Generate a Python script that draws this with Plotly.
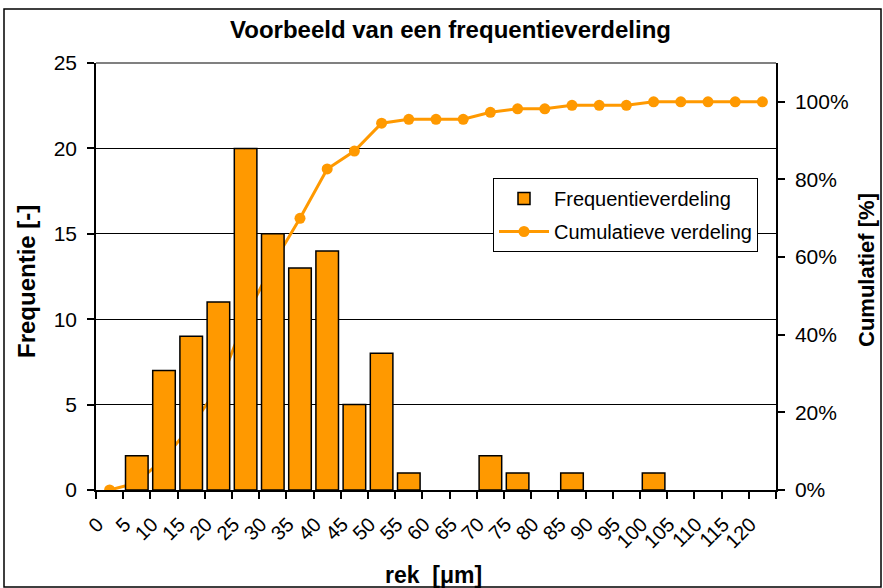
import plotly.graph_objects as go

categories = ["0", "5", "10", "15", "20", "25", "30", "35", "40", "45", "50", "55", "60",
              "65", "70", "75", "80", "85", "90", "95", "100", "105", "110", "115", "120"]
frequency = [0, 2, 7, 9, 11, 20, 15, 13, 14, 5, 8, 1, 0, 0, 2, 1, 0, 1, 0, 0, 1, 0, 0, 0, 0]
cumulative = [0.0, 0.018, 0.082, 0.164, 0.264, 0.445, 0.582, 0.700, 0.827, 0.873, 0.945,
              0.955, 0.955, 0.955, 0.973, 0.982, 0.982, 0.991, 0.991, 0.991, 1.0, 1.0,
              1.0, 1.0, 1.0]
left_ticks = [0, 5, 10, 15, 20, 25]
right_ticks = [0, 0.2, 0.4, 0.6, 0.8, 1.0]

W, H = 883, 588
ML, MR, MT, MB = 96, 107, 63, 98
PW, PH = W - ML - MR, H - MT - MB


def px(x):
    return (x - ML) / PW


def py(y):
    return (H - MB - y) / PH


FONT = "Arial, Liberation Sans, sans-serif"
ORANGE = "#FF9900"

# no outline on empty bins (Excel draws nothing there)
bar_outline = [1.5 if v > 0 else 0 for v in frequency]

fig = go.Figure()
fig.add_trace(go.Bar(
    x=categories, y=frequency, name="Frequentieverdeling",
    marker=dict(color=ORANGE, line=dict(color="black", width=bar_outline)),
    yaxis="y2", legendgroup="a", showlegend=False,
))
# legend entry for the bars (with outline)
fig.add_trace(go.Bar(
    x=[None], y=[None], name="Frequentieverdeling",
    marker=dict(color=ORANGE, line=dict(color="black", width=1.5)),
    yaxis="y2", legendgroup="a", showlegend=True,
))
fig.add_trace(go.Scatter(
    x=categories, y=cumulative, name="Cumulatieve verdeling",
    mode="lines+markers", line=dict(color=ORANGE, width=3),
    marker=dict(color=ORANGE, size=11), yaxis="y", legendgroup="b",
))

fig.update_layout(
    width=W, height=H,
    margin=dict(l=ML, r=MR, t=MT, b=MB),
    paper_bgcolor="white", plot_bgcolor="white",
    font=dict(family=FONT, color="black"),
    bargap=0.17, barmode="overlay",
    showlegend=True,
    legend=dict(
        x=px(493), y=py(178), xanchor="left", yanchor="top",
        bgcolor="white", bordercolor="black", borderwidth=1,
        font=dict(size=20, family=FONT), traceorder="grouped", tracegroupgap=4,
        itemwidth=50,
    ),
    xaxis=dict(
        type="category", range=[-0.5, len(categories) - 0.5],
        tickson="boundaries", ticks="outside", ticklen=7,
        tickcolor="black", tickwidth=1.5, showline=True, linecolor="black",
        linewidth=1.5, showgrid=False, tickangle=-45,
        tickfont=dict(size=20, family=FONT), ticklabelstandoff=13,
        ticklabelshift=-12,
    ),
    yaxis=dict(
        side="right", range=[0, 1.1], tickvals=right_ticks, tickformat=".0%",
        ticks="outside", ticklen=7, tickcolor="black", tickwidth=1.5,
        showline=True, linecolor="black", linewidth=1.5, showgrid=False,
        zeroline=False, tickfont=dict(size=21, family=FONT), ticklabelstandoff=6,
    ),
    yaxis2=dict(
        side="left", overlaying="y", range=[0, 25], tickvals=left_ticks,
        ticks="outside", ticklen=7, tickcolor="black", tickwidth=1.5,
        showline=True, linecolor="black", linewidth=1.5, showgrid=True,
        gridcolor="black", gridwidth=1, zeroline=False,
        tickfont=dict(size=21, family=FONT), ticklabelstandoff=6,
    ),
    shapes=[
        dict(type="line", xref="paper", yref="paper", x0=0, x1=1, y0=1, y1=1,
             line=dict(color="#808080", width=2)),
        dict(type="rect", xref="paper", yref="paper",
             x0=px(4), x1=px(881), y0=py(587), y1=py(9),
             line=dict(color="black", width=1.5)),
    ],
    annotations=[
        dict(text="<b>Voorbeeld van een frequentieverdeling</b>", xref="paper", yref="paper",
             x=px(450), y=py(30), xanchor="center", yanchor="middle",
             showarrow=False, font=dict(size=24, family=FONT)),
        dict(text="<b>Frequentie [-]</b>", xref="paper", yref="paper",
             x=px(26), y=py(282), xanchor="center", yanchor="middle",
             showarrow=False, textangle=-90, font=dict(size=24, family=FONT)),
        dict(text="<b>Cumulatief [%]</b>", xref="paper", yref="paper",
             x=px(866), y=py(270), xanchor="center", yanchor="middle",
             showarrow=False, textangle=-90, font=dict(size=22, family=FONT)),
        dict(text="<b>rek\u00a0 [\u03bcm]</b>", xref="paper", yref="paper",
             x=px(433), y=py(575), xanchor="center", yanchor="middle",
             showarrow=False, font=dict(size=23, family=FONT)),
    ],
)

fig.write_html("out.html")
